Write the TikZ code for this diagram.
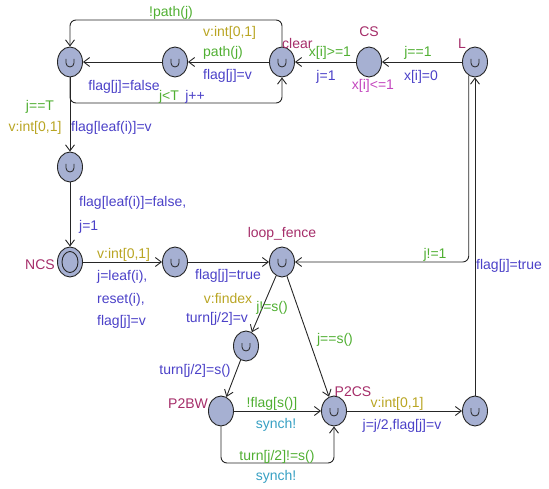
\documentclass[tikz,border=0pt]{standalone}
\usepackage{fontspec}
\setmainfont{Liberation Sans}
\usetikzlibrary{shapes.geometric,arrows.meta}
\tikzset{>={Straight Barb[length=6pt,width=9pt]}}
\colorlet{locFill}{rgb,255:red,166;green,176;blue,210}
\colorlet{penColor}{black!85}
\definecolor{nameColor}{RGB}{165,45,105}
\definecolor{guardColor}{RGB}{80,175,50}
\definecolor{selectColor}{RGB}{185,165,35}
\definecolor{updateColor}{RGB}{75,65,200}
\definecolor{syncColor}{RGB}{55,160,195}
\definecolor{invColor}{RGB}{195,70,190}
\tikzset{
  loc/.style={ellipse,draw=penColor,line width=0.9pt,fill=locFill,
    minimum width=25pt,minimum height=30pt,inner sep=0pt},
  committed/.style={loc,path picture={
    \draw[penColor,line width=0.8pt]
      ([xshift=-4pt,yshift=3pt]path picture bounding box.center) -- ++(0pt,-4pt)
      arc[start angle=180,end angle=360,radius=4pt] -- ++(0pt,4pt);}},
  initloc/.style={loc,path picture={
    \draw[penColor,line width=0.9pt] (path picture bounding box.center)
      ellipse[x radius=8pt,y radius=10.5pt];}},
  conn/.style={->,penColor,line width=0.9pt},
  lbl/.style={inner sep=0pt,font=\fontsize{14}{16}\selectfont},
  locname/.style={lbl,text=nameColor},
  guard/.style={lbl,text=guardColor},
  sel/.style={lbl,text=selectColor},
  upd/.style={lbl,text=updateColor},
  synch/.style={lbl,text=syncColor},
  inv/.style={lbl,text=invColor}
}
\begin{document}
\begin{tikzpicture}[x=1pt,y=-1pt]
\useasboundingbox (0,0) rectangle (549,489);
% locations
\node[committed] (A) at (70,62) {};
\node[committed] (B) at (175,62) {};
\node[committed] (clear) at (282,62) {};
\node[loc] (CS) at (369,62) {};
\node[committed] (L) at (475,62) {};
\node[committed] (D) at (70,167) {};
\node[initloc] (NCS) at (70,262) {};
\node[committed] (E) at (175,262) {};
\node[committed] (fence) at (282,262) {};
\node[committed] (F) at (246,346) {};
\node[loc] (P2BW) at (221,411) {};
\node[committed] (P2CS) at (334,411) {};
\node[committed] (G) at (475,411) {};
% names
\node[locname,anchor=west] (nclear) at (282,43) {clear};
\node[locname] (nCS) at (369,32) {CS};
\node[inv] (iCS) at (373,86) {x[i]<=1};
\node[locname] (nL) at (462,44) {L};
\node[locname] (nNCS) at (40,265) {NCS};
\node[locname] (nfence) at (282,234) {loop\_fence};
\node[locname] (nP2BW) at (188,404) {P2BW};
\node[locname] (nP2CS) at (353,392) {P2CS};
% helper coordinates
\coordinate (topy) at (0,20);
\coordinate (boty) at (0,103);
\coordinate (lowy) at (0,463);
% edges
\draw[conn] (L) -- (CS);
\draw[conn] (CS) -- (clear);
\draw[conn] (clear) -- (B);
\draw[conn] (B) -- (A);
\draw[conn,rounded corners=6pt] (clear.north) -- (clear |- topy) -| (A.north);
\draw[conn,rounded corners=6pt] (A.south) -- (A |- boty) -| (clear.south);
\draw[conn] (A) -- (D);
\draw[conn] (D) -- (NCS);
\draw[conn] (NCS) -- (E);
\draw[conn] (E) -- (fence);
\draw[conn,rounded corners=6pt] (L.245) -- (L.245 |- fence) -- (fence);
\draw[conn] (G) -- (L);
\draw[conn] (fence) -- (F);
\draw[conn] (fence) -- (P2CS);
\draw[conn] (F) -- (P2BW);
\draw[conn] (P2BW) -- (P2CS);
\draw[conn,rounded corners=6pt] (P2BW.south) -- (P2BW |- lowy) -| (P2CS.south);
\draw[conn] (P2CS) -- (G);
% labels
\node[guard] (g1) at (418,53) {j==1};
\node[upd] (u1) at (421,77) {x[i]=0};
\node[guard] (g2) at (330,53) {x[i]>=1};
\node[upd] (u2) at (326,77) {j=1};
\node[sel,anchor=west] (s3) at (203,33) {v:int[0,1]};
\node[guard,anchor=west] (g3) at (203,53) {path(j)};
\node[upd,anchor=west] (u3) at (203,76) {flag[j]=v};
\node[upd] (u4) at (124,87) {flag[j]=false};
\node[guard] (g5) at (171,13) {!path(j)};
\node[guard] (g6) at (169,97) {j<T};
\node[upd] (u6) at (195,97) {j++};
\node[guard] (g7) at (40,107) {j==T};
\node[sel] (s7) at (35,128) {v:int[0,1]};
\node[upd,anchor=west] (u7) at (71,128) {flag[leaf(i)]=v};
\node[upd,anchor=west] (u8) at (79,203) {flag[leaf(i)]=false,};
\node[upd,anchor=west] (u8b) at (79,227) {j=1};
\node[sel,anchor=west] (s9) at (97,255) {v:int[0,1]};
\node[upd,anchor=west] (u9) at (97,277) {j=leaf(i),};
\node[upd,anchor=west] (u9b) at (97,300) {reset(i),};
\node[upd,anchor=west] (u9c) at (97,322) {flag[j]=v};
\node[upd] (u10) at (228,276) {flag[j]=true};
\node[guard] (g11) at (435,255) {j!=1};
\node[upd,anchor=west] (u12) at (476,266) {flag[j]=true};
\node[sel] (s13) at (228,298) {v:findex};
\node[guard] (g13) at (272,308) {j!=s()};
\node[upd] (u13) at (217,319) {turn[j/2]=v};
\node[guard] (g14) at (335,340) {j==s()};
\node[upd] (u15) at (195,371) {turn[j/2]=s()};
\node[guard] (g16) at (272,404) {!flag[s()]};
\node[synch] (y16) at (276,425) {synch!};
\node[guard] (g17) at (277,457) {turn[j/2]!=s()};
\node[synch] (y17) at (276,477) {synch!};
\node[sel] (s18) at (397,404) {v:int[0,1]};
\node[upd] (u18) at (402,426) {j=j/2,flag[j]=v};
\end{tikzpicture}
\end{document}
